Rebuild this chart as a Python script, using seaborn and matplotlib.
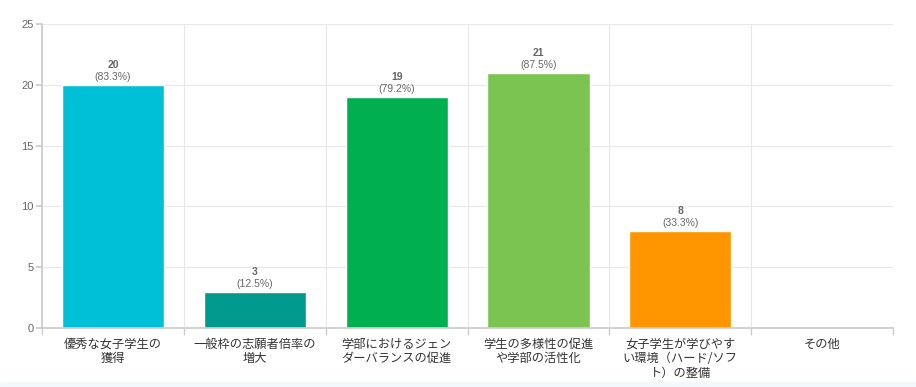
import matplotlib
matplotlib.use("Agg")
import matplotlib.pyplot as plt
import seaborn as sns
import numpy as np
import pandas as pd

categories = ["優秀な女子学生の\n獲得", "一般枠の志願者倍率の\n増大", "学部におけるジェン\nダーバランスの促進",
              "学生の多様性の促進\nや学部の活性化", "女子学生が学びやす\nい環境（ハード/ソフ\nト）の整備", "その他"]
counts = [20, 3, 19, 21, 8, 0]
percents = [83.3, 12.5, 79.2, 87.5, 33.3, 0.0]
colors = ["#00c0d8", "#009a8e", "#00b050", "#7cc452", "#ff9600", "#cccccc"]

sns.set_theme(style="white")
plt.rcParams['font.family'] = ['Noto Sans CJK JP', 'DejaVu Sans']

df = pd.DataFrame({"cat": categories, "n": counts})

fig = plt.figure(figsize=(9.16, 3.87), dpi=100)
ax = fig.add_axes([0.046, 0.1525, 0.929, 0.7855])
sns.barplot(data=df, x="cat", y="n", hue="cat", palette=colors, width=0.72,
            legend=False, ax=ax, saturation=1)

ax.set_xlim(-0.5, len(categories) - 0.5)
ax.set_ylim(0, 25)
ax.set_yticks([0, 5, 10, 15, 20, 25])
ax.set_yticklabels(["0", "5", "10", "15", "20", "25"], family="Liberation Sans")
ax.set_xlabel("")
ax.set_ylabel("")
for lbl in ax.get_xticklabels():
    lbl.set_linespacing(1.15)

# gridlines: horizontal at y ticks, vertical between categories
ax.set_xticks(np.arange(len(categories) + 1) - 0.5, minor=True)
ax.grid(axis="y", color="#e8e8e8", linewidth=0.8)
ax.grid(axis="x", which="minor", color="#e8e8e8", linewidth=0.8)
ax.set_axisbelow(True)

for s in ["top", "right"]:
    ax.spines[s].set_visible(False)
ax.spines["left"].set_color("#cccccc")
ax.spines["bottom"].set_color("#cccccc")

ax.tick_params(axis="y", labelsize=8, labelcolor="#666666", length=4, color="#cccccc", pad=2)
ax.tick_params(axis="x", which="major", length=0, labelsize=8.8, labelcolor="#333333", pad=7)
ax.tick_params(axis="x", which="minor", length=5, color="#cccccc", bottom=True)
ax.tick_params(axis="y", left=True)

for i, (c, p) in enumerate(zip(counts, percents)):
    if c == 0:
        continue
    ax.annotate(str(c), (i, c), xytext=(0, 10.5), textcoords="offset points",
                ha="center", va="bottom", fontsize=7.5, color="#666666",
                fontweight="bold", family="Liberation Sans")
    ax.annotate("(%.1f%%)" % p, (i, c), xytext=(0, 2), textcoords="offset points",
                ha="center", va="bottom", fontsize=7.5, color="#666666",
                family="Liberation Sans")

# light band at the bottom of the picture
fig.patches.append(plt.Rectangle((0, 0), 1, 0.012, transform=fig.transFigure,
                                 color="#f3f8fc", zorder=0))

fig.savefig("out.png", dpi=100)
